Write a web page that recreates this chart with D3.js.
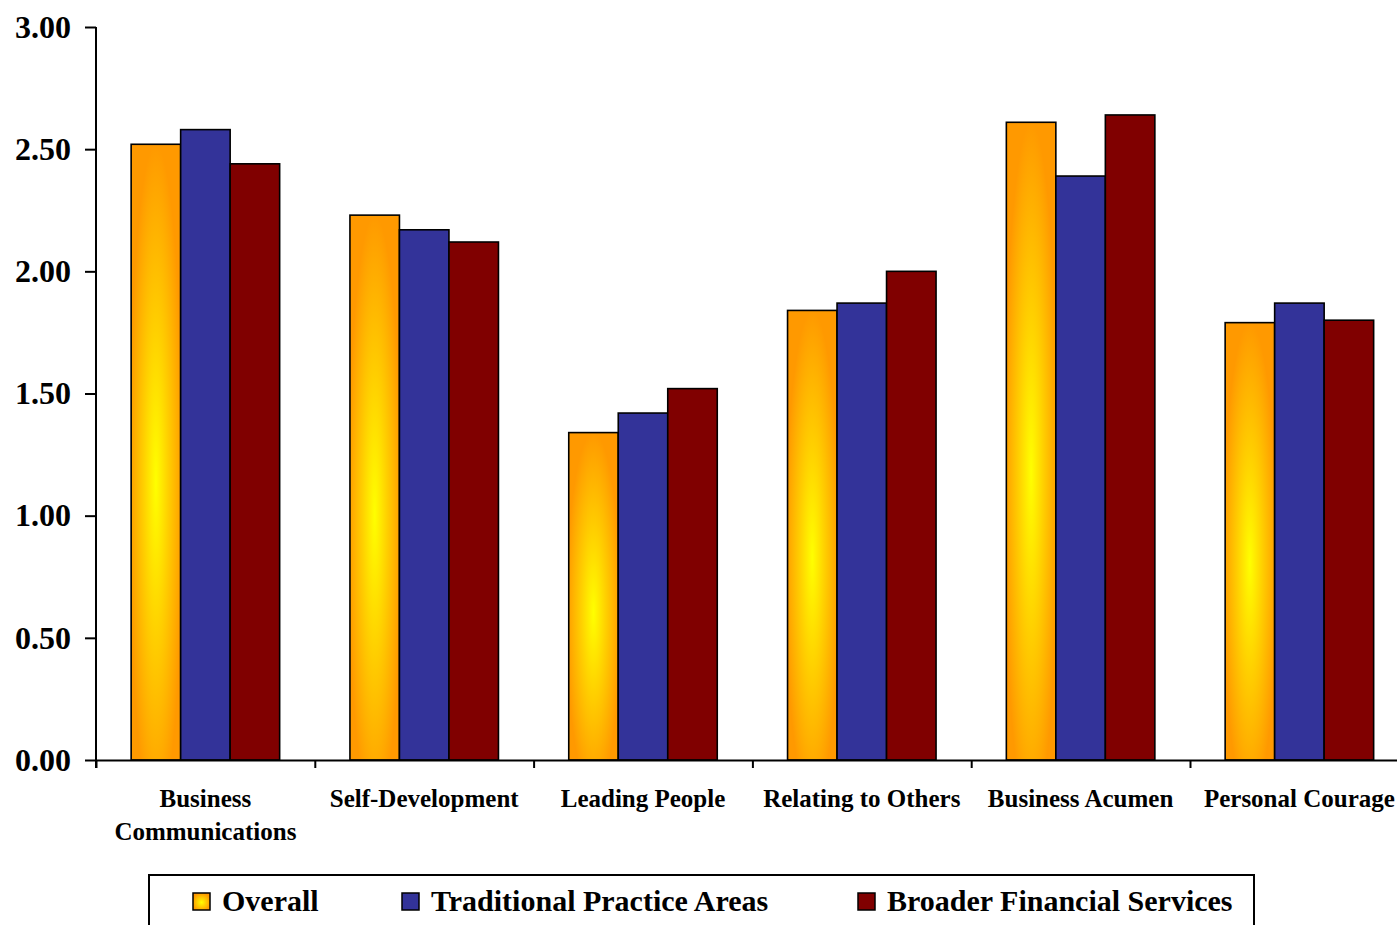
<!DOCTYPE html>
<html>
<head>
<meta charset="utf-8">
<script src="https://cdn.jsdelivr.net/npm/d3@7"></script>
<style>
  body { margin: 0; background: #fff; overflow: hidden; }
  svg { display: block; font-family: "Liberation Serif", "Times New Roman", serif; font-weight: bold; }
</style>
</head>
<body>
<svg width="1397" height="925"></svg>
<script>
// categories and series
var categories = [
  ["Business", "Communications"],
  ["Self-Development"],
  ["Leading People"],
  ["Relating to Others"],
  ["Business Acumen"],
  ["Personal Courage"]
];
var seriesNames = ["Overall", "Traditional Practice Areas", "Broader Financial Services"];
var overall     = [2.52, 2.23, 1.34, 1.84, 2.61, 1.79];
var traditional = [2.58, 2.17, 1.42, 1.87, 2.39, 1.87];
var broader     = [2.44, 2.12, 1.52, 2.00, 2.64, 1.80];
var yTicks = [0, 0.5, 1, 1.5, 2, 2.5, 3];

var seriesValues = [overall, traditional, broader];
var colors = ["url(#overallGrad)", "#333399", "#800000"];

var svg = d3.select("svg");

// gradient for the "Overall" bars (yellow centre, orange edges)
var defs = svg.append("defs");
var grad = defs.append("radialGradient")
  .attr("id", "overallGrad")
  .attr("cx", 0.5).attr("cy", 0.55).attr("r", 0.55);
grad.append("stop").attr("offset", "0%").attr("stop-color", "#ffff00");
grad.append("stop").attr("offset", "45%").attr("stop-color", "#ffd000");
grad.append("stop").attr("offset", "100%").attr("stop-color", "#ff9900");

var plotLeft = 96, plotTop = 27, plotBottom = 760;
var step = 218.8;

var x0 = d3.scaleBand()
  .domain(d3.range(categories.length))
  .range([plotLeft, plotLeft + step * categories.length])
  .padding(0);

var x1 = d3.scaleBand()
  .domain(d3.range(seriesNames.length))
  .range([0, x0.bandwidth()])
  .paddingInner(0)
  .paddingOuter(0.71);

var y = d3.scaleLinear().domain([0, 3]).range([plotBottom, plotTop]);

// bars
var groups = svg.append("g").attr("class", "bars")
  .selectAll("g")
  .data(categories.map(function (c, i) { return i; }))
  .enter().append("g")
  .attr("transform", function (i) { return "translate(" + x0(i) + ",0)"; });

groups.selectAll("rect")
  .data(function (i) { return seriesValues.map(function (s, k) { return { k: k, v: s[i] }; }); })
  .enter().append("rect")
  .attr("x", function (d) { return x1(d.k); })
  .attr("y", function (d) { return y(d.v); })
  .attr("width", x1.bandwidth())
  .attr("height", function (d) { return plotBottom - y(d.v); })
  .attr("fill", function (d) { return colors[d.k]; })
  .attr("stroke", "#000")
  .attr("stroke-width", 1.6);

// y axis
var yAxis = svg.append("g")
  .attr("transform", "translate(" + plotLeft + ",0)")
  .call(d3.axisLeft(y).tickValues(yTicks).tickFormat(d3.format(".2f"))
    .tickSize(11).tickPadding(14).tickSizeOuter(0));
yAxis.select(".domain").remove();
yAxis.append("line")
  .attr("x1", 0).attr("x2", 0).attr("y1", plotTop).attr("y2", plotBottom + 8)
  .attr("stroke", "#000").attr("stroke-width", 2);
yAxis.selectAll(".tick line").attr("stroke-width", 2);
yAxis.selectAll(".tick text")
  .attr("fill", "#000")
  .style("font-family", "'Liberation Serif', 'Times New Roman', serif")
  .style("font-weight", "bold")
  .style("font-size", "32px");

// x axis: ticks at category boundaries
var xIdx = d3.scaleLinear().domain([0, categories.length]).range(x0.range());
var xAxis = svg.append("g")
  .attr("transform", "translate(0," + plotBottom + ")")
  .call(d3.axisBottom(xIdx).tickValues(d3.range(categories.length + 1))
    .tickFormat("").tickSize(8).tickSizeOuter(0));
xAxis.select(".domain").attr("stroke-width", 2);
xAxis.selectAll(".tick line").attr("stroke-width", 2);

// category labels
var labels = svg.append("g")
  .selectAll("text")
  .data(categories)
  .enter().append("text")
  .attr("x", function (c, i) { return x0(i) + x0.bandwidth() / 2; })
  .attr("y", 807)
  .attr("text-anchor", "middle")
  .style("font-size", "25px");
labels.selectAll("tspan")
  .data(function (c) { return c; })
  .enter().append("tspan")
  .attr("x", function () { return this.parentNode.getAttribute("x"); })
  .attr("dy", function (t, j) { return j === 0 ? 0 : 33; })
  .text(function (t) { return t; });

// legend
var legend = svg.append("g");
legend.append("rect")
  .attr("x", 149).attr("y", 875).attr("width", 1105).attr("height", 70)
  .attr("fill", "none").attr("stroke", "#000").attr("stroke-width", 2);

var legendX = [193, 402, 858];
var item = legend.selectAll("g.item")
  .data(seriesNames)
  .enter().append("g")
  .attr("class", "item")
  .attr("transform", function (d, i) { return "translate(" + legendX[i] + ",0)"; });
item.append("rect")
  .attr("x", 0).attr("y", 893).attr("width", 17).attr("height", 17)
  .attr("fill", function (d, i) { return colors[i]; })
  .attr("stroke", "#000").attr("stroke-width", 1.5);
item.append("text")
  .attr("x", 29).attr("y", 911)
  .style("font-size", "30px")
  .text(function (d) { return d; });
</script>
</body>
</html>
